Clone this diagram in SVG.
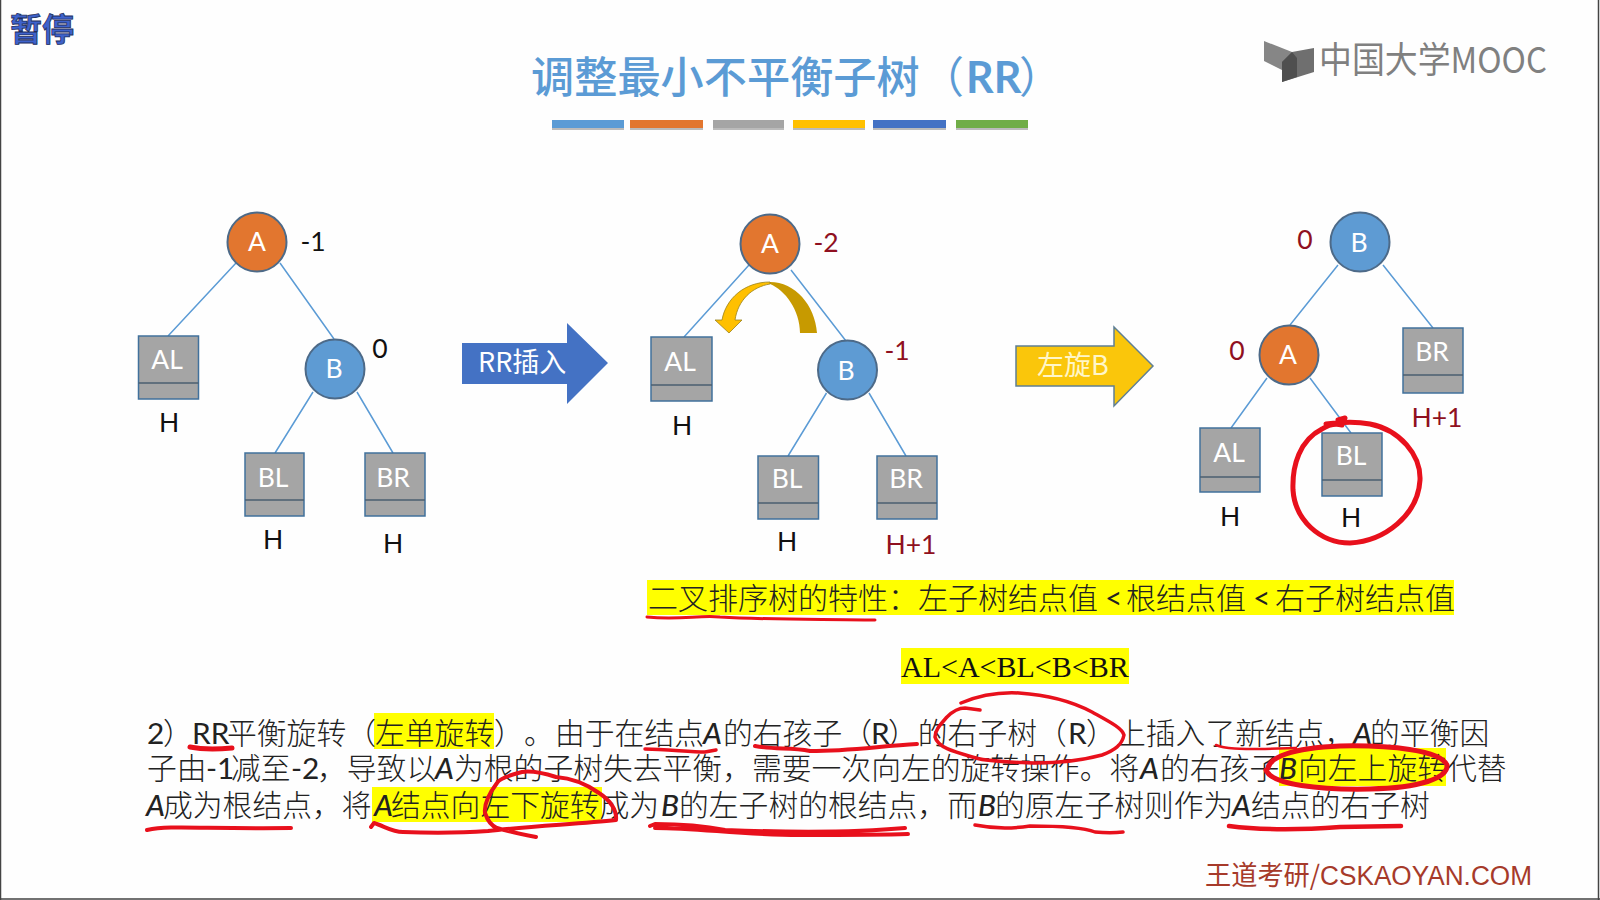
<svg xmlns="http://www.w3.org/2000/svg" width="1600" height="900" viewBox="0 0 1600 900">
<style>
text{font-family:"Noto Sans CJK SC","Noto Sans",sans-serif;text-spacing-trim:space-all}
.n,.k,.r{font-family:Lato,"Noto Sans",sans-serif;font-size:26.500px;text-anchor:middle;dominant-baseline:central;transform:translateY(-1.500px)}
.n{fill:#fff}
.k{fill:#111}
.r{fill:#8f1020}
.ca{fill:#E2762F;stroke:#4d6a88;stroke-width:2}
.cb{fill:#5E9BD3;stroke:#4d6a88;stroke-width:2}
.b{fill:#A5A5A5;stroke:#41719C;stroke-width:1.5}
.d{stroke:#4b5f70;stroke-width:1.5;fill:none}
.e{stroke:#5B9BD5;stroke-width:1.5;fill:none}
.p{font-size:29.8px;fill:#222;font-weight:300}
.l{font-family:Lato,"Noto Sans",sans-serif;font-weight:400}
.i{font-family:Lato,"Noto Sans",sans-serif;font-style:italic;font-weight:500}
.y{fill:#FFFF00}
.m{fill:none;stroke:#E8101C;stroke-linecap:round;stroke-linejoin:round}
</style>
<rect width="1600" height="900" fill="#FEFEFE"/>
<path d="M0.500 0V900M0 899H1600M1598.500 0V900" stroke="#444" stroke-width="1.5" fill="none"/>
<text id="pause" x="10" y="41" font-size="32" font-weight="700" fill="#3E62CC" stroke="#1c2d5e" stroke-width="0.8">暂停</text>
<g id="title">
<text x="531" y="93" font-size="43.200" font-weight="500" fill="#5B9BD5">调整最小不平衡子树</text>
<text x="921" y="93" font-size="43" fill="#5B9BD5">（</text>
<text x="966" y="93" font-size="43" style="font-weight:700" fill="#5B9BD5" class="l">RR</text>
<text x="1019" y="93" font-size="43" fill="#5B9BD5">）</text>
</g>
<g id="bars">
<g fill="#bbb"><rect x="552" y="123" width="72" height="7"/><rect x="630" y="123" width="73" height="7"/><rect x="713" y="123" width="71" height="7"/><rect x="793" y="123" width="72" height="7"/><rect x="873" y="123" width="73" height="7"/><rect x="956" y="123" width="72" height="7"/></g>
<rect x="552" y="120" width="72" height="8" fill="#5B9BD5"/><rect x="630" y="120" width="73" height="8" fill="#E2762F"/><rect x="713" y="120" width="71" height="8" fill="#A5A5A5"/><rect x="793" y="120" width="72" height="8" fill="#FFC000"/><rect x="873" y="120" width="73" height="8" fill="#4472C4"/><rect x="956" y="120" width="72" height="8" fill="#70AD47"/>
</g>
<g id="logo">
<polygon points="1264,41 1292,52 1300,60 1282,70 1264,61" fill="#868686"/>
<polygon points="1314,48 1314,72 1282,82 1282,62 1292,52" fill="#6f6f6f"/>
<polygon points="1282,62 1292,52 1297,58 1297,77 1282,82" fill="#4f4f4f"/>
<text x="1319" y="73" font-size="36" fill="#808080" textLength="228" lengthAdjust="spacingAndGlyphs">中国大学MOOC</text>
</g>
<g id="connectors">
<path class="e" d="M236 263L168 336M280 263L334 339M313 392L275 453M357 392L393 453"/>
<path class="e" d="M749 265L684 337M791 270L846 341M826.500 393L788 456M869 393L906 456"/>
<path class="e" d="M1338 265L1290 325M1383 265L1433 328M1267 378L1231 428M1310 378L1351 433"/>
</g>
<g id="A1"><circle class="ca" cx="257" cy="242" r="29.500"/><text class="n" x="257" y="242">A</text><text class="k" x="313" y="242">-1</text></g>
<g id="AL1"><rect class="b" x="138.500" y="336" width="60" height="63"/><path class="d" d="M138.500 383H198.500"/><text class="n" x="167" y="360">AL</text><text class="k" x="169" y="423">H</text></g>
<g id="B1"><circle class="cb" cx="335" cy="369" r="29.500"/><text class="n" x="334" y="369">B</text><text class="k" x="380" y="349">0</text></g>
<g id="BL1"><rect class="b" x="245" y="453" width="59" height="63"/><path class="d" d="M245 500H304"/><text class="n" x="273" y="478">BL</text><text class="k" x="273" y="540">H</text></g>
<g id="BR1"><rect class="b" x="365" y="453" width="60" height="63"/><path class="d" d="M365 500H425"/><text class="n" x="393" y="478">BR</text><text class="k" x="393" y="544">H</text></g>
<g id="arrow-rr"><polygon points="462,343 567,343 567,323 608,363 567,404 567,384 462,384" fill="#4472C4"/><text x="478" y="372" font-size="27" fill="#fff">RR插入</text></g>
<g id="A2"><circle class="ca" cx="770" cy="244" r="29.500"/><text class="n" x="770" y="244">A</text><text class="r" x="826" y="243">-2</text></g>
<g id="AL2"><rect class="b" x="651" y="337" width="61" height="64"/><path class="d" d="M651 385H712"/><text class="n" x="680" y="362">AL</text><text class="k" x="682" y="426">H</text></g>
<g id="B2"><circle class="cb" cx="847.500" cy="370" r="29.500"/><text class="n" x="846" y="371">B</text><text class="r" x="897" y="351">-1</text></g>
<g id="BL2"><rect class="b" x="758" y="456" width="60.500" height="63"/><path class="d" d="M758 503H818.500"/><text class="n" x="787" y="479">BL</text><text class="k" x="787" y="542">H</text></g>
<g id="BR2"><rect class="b" x="877" y="456" width="60" height="63"/><path class="d" d="M877 503H937"/><text class="n" x="906" y="479">BR</text><text class="r" x="911" y="545">H+1</text></g>
<g id="rotate-arrow">
<path d="M770 282C795 282 815 305 817 333L800 333C800 310 785 290 770 284Z" fill="#C79A00"/>
<path d="M770 282C745 282 726 298 722 320L715 320L729 333L742 320L735 320C738 300 752 287 770 284Z" fill="#FFC000" stroke="#9a8320" stroke-width="0.8"/>
</g>
<g id="arrow-left"><polygon points="1016,346 1114,346 1114,327 1153,366 1114,406 1114,386 1016,386" fill="#FAC60B" stroke="#5f7f94" stroke-width="1.5"/><text x="1037" y="375" font-size="27" fill="#FFF6C8">左旋B</text></g>
<g id="B3"><circle class="cb" cx="1360" cy="242" r="29.500"/><text class="n" x="1359" y="243">B</text><text class="r" x="1305" y="240">0</text></g>
<g id="A3"><circle class="ca" cx="1289" cy="355" r="29.500"/><text class="n" x="1288" y="355">A</text><text class="r" x="1237" y="351">0</text></g>
<g id="BR3"><rect class="b" x="1403" y="328" width="60" height="65"/><path class="d" d="M1403 375H1463"/><text class="n" x="1432" y="352">BR</text><text class="r" x="1437" y="418">H+1</text></g>
<g id="AL3"><rect class="b" x="1200" y="428" width="60" height="64"/><path class="d" d="M1200 477H1260"/><text class="n" x="1229" y="453">AL</text><text class="k" x="1230" y="517">H</text></g>
<g id="BL3"><rect class="b" x="1322" y="433" width="60" height="63"/><path class="d" d="M1322 480H1382"/><text class="n" x="1351" y="456">BL</text><text class="k" x="1351" y="518">H</text></g>
<g id="rule">
<rect class="y" x="647" y="580" width="807" height="35"/>
<text y="609" font-size="30" fill="#222" font-weight="300"><tspan x="648">二叉排序树的特性：左子树结点值</tspan><tspan x="1105" class="l">&lt;</tspan><tspan x="1126">根结点值</tspan><tspan x="1253" class="l">&lt;</tspan><tspan x="1275">右子树结点值</tspan></text>
<rect class="y" x="901" y="648" width="228" height="36"/>
<text x="901" y="677" font-size="30" fill="#111" style="font-family:'Liberation Serif',serif">AL&lt;A&lt;BL&lt;B&lt;BR</text>
</g>
<g id="paragraph">
<rect class="y" x="374" y="713" width="120" height="36"/>
<rect class="y" x="1279" y="748" width="167" height="38"/>
<rect class="y" x="372" y="787" width="230" height="35"/>
<text class="p" y="744"><tspan x="147" class="l">2</tspan><tspan x="163">）</tspan><tspan x="192" class="l">RR</tspan><tspan x="227">平衡旋转（</tspan><tspan x="375">左单旋转</tspan><tspan x="494">）</tspan><tspan x="524">。</tspan><tspan x="555">由于在结点</tspan><tspan x="703" class="i">A</tspan><tspan x="723">的右孩子（</tspan><tspan x="871" class="l">R</tspan><tspan x="888">）的右子树（</tspan><tspan x="1068" class="l">R</tspan><tspan x="1086">）</tspan><tspan x="1116">上插入了新结点，</tspan><tspan x="1353" class="i">A</tspan><tspan x="1370">的平衡因</tspan></text>
<text class="p" y="779"><tspan x="147">子由</tspan><tspan x="206" class="l">-1</tspan><tspan x="231">减至</tspan><tspan x="291" class="l">-2</tspan><tspan x="317">，导致以</tspan><tspan x="435" class="i">A</tspan><tspan x="454">为根的子树失去平衡，需要一次向左的旋转操作。将</tspan><tspan x="1140" class="i">A</tspan><tspan x="1160">的右孩子</tspan><tspan x="1279" class="i">B</tspan><tspan x="1298">向左上旋转代替</tspan></text>
<text class="p" y="816"><tspan x="146" class="i">A</tspan><tspan x="163">成为根结点，将</tspan><tspan x="374" class="i">A</tspan><tspan x="391">结点向左下旋转成为</tspan><tspan x="661" class="i">B</tspan><tspan x="679">的左子树的根结点，而</tspan><tspan x="978" class="i">B</tspan><tspan x="995">的原左子树则作为</tspan><tspan x="1232" class="i">A</tspan><tspan x="1251">结点的右子树</tspan></text>
</g>
<text id="watermark" x="1205" y="885" font-size="27" fill="#A63A2A" textLength="327" lengthAdjust="spacingAndGlyphs">王道考研/<tspan style="font-family:'Liberation Sans',sans-serif">CSKAOYAN.COM</tspan></text>
<g id="ink">
<path class="m" stroke-width="5" d="M1342 425C1335 423 1328 425 1322 429C1300 440 1292 465 1293 490C1295 520 1320 543 1350 543C1385 541 1418 515 1420 480C1421 455 1400 430 1370 424C1355 421 1340 422 1326 424M1338 420L1345 418"/>
<path class="m" stroke-width="3" d="M647 617C680 620 700 615 720 617C770 620 820 619 875 620"/>
<path class="m" stroke-width="5" d="M190 747C205 750 220 749 232 748"/>
<path class="m" stroke-width="3.500" d="M645 749C665 749 690 752 705 752L716 750"/>
<path class="m" stroke-width="4" d="M755 746C775 750 790 747 810 751C850 751 880 746 917 744"/>
<path class="m" stroke-width="3.500" d="M961 703C980 695 1000 692 1019 693C1050 695 1075 703 1092 712C1110 722 1122 728 1124 735C1122 745 1115 750 1102 755C1080 761 1055 763 1034 763C1010 762 990 762 976 758C955 752 938 748 935 737C935 730 940 725 947 717C952 712 958 708 965 708L980 710"/>
<path class="m" stroke-width="2.500" d="M1216 745C1225 749 1240 749 1265 749L1296 748"/>
<path class="m" stroke-width="5" d="M1268 768C1270 758 1290 748 1340 746C1390 745 1440 750 1447 765C1448 778 1420 788 1370 789C1320 790 1272 785 1266 770"/>
<path class="m" stroke-width="4" d="M147 830C170 825 200 829 291 828"/>
<path class="m" stroke-width="4" d="M371 827L374 823C384 826 392 832 403 832C430 833 460 833 488 831C530 826 580 824 616 820C617 810 610 800 599 793C585 783 570 778 556 777C540 772 528 771 522 772C510 775 500 778 497 783C488 795 484 805 485 813C488 822 492 826 497 828C510 832 525 835 536 837"/>
<path class="m" stroke-width="4" d="M650 826L655 824C680 824 700 825 725 830C780 832 850 833 905 828M655 828C700 828 740 835 800 835C840 835 880 835 908 834"/>
<path class="m" stroke-width="3.500" d="M975 825C990 828 1010 829 1030 826C1060 826 1085 828 1095 832C1105 833 1115 833 1123 832"/>
<path class="m" stroke-width="4.500" d="M1229 826C1260 830 1300 830 1340 827L1401 826"/>
</g>
</svg>
